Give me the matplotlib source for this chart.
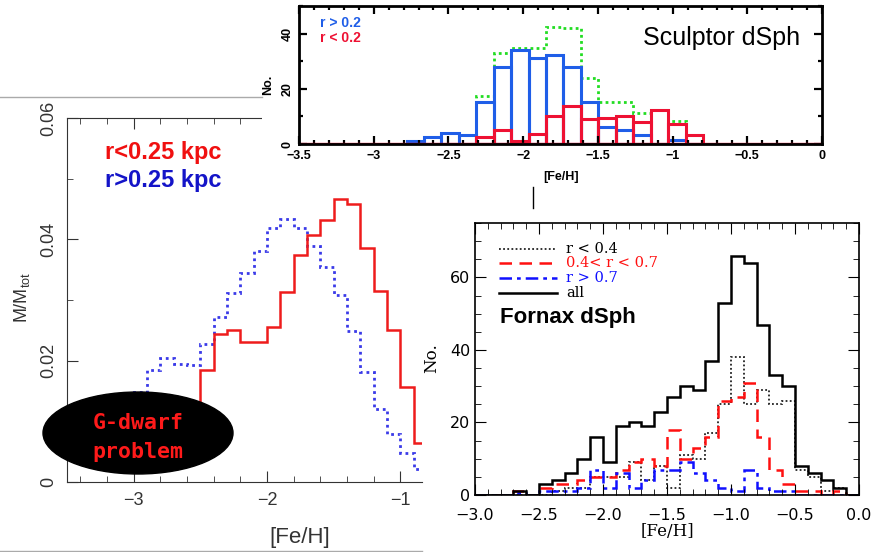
import numpy as np
import matplotlib
matplotlib.use("Agg")
import matplotlib.pyplot as plt
from matplotlib.patches import Ellipse
from matplotlib.lines import Line2D
from matplotlib.ticker import MultipleLocator

W, H = 875, 552

# --- left panel: model M/Mtot vs [Fe/H], bins of 0.1 from -3.5 to -0.8
left_edges = np.round(np.arange(-3.5, -0.75, 0.1), 1)
left_inner = [0.007, 0.007, 0.007, 0.007, 0.007, 0.007, 0.007, 0.007, 0.007, 0.007,
              0.0184, 0.0244, 0.0251, 0.0231, 0.0230, 0.0255, 0.0314, 0.0374, 0.0407,
              0.0432, 0.0467, 0.0459, 0.0385, 0.0315, 0.0250, 0.0157, 0.0065]
left_outer = [0.008, 0.008, 0.009, 0.010, 0.011,
              0.0148, 0.0184, 0.0205, 0.0195, 0.0193, 0.0228, 0.0272, 0.0311, 0.0344,
              0.0380, 0.0418, 0.0433, 0.0418, 0.0389, 0.0355, 0.0308, 0.0249, 0.0182,
              0.0121, 0.0079, 0.0048, 0.0022]

# --- Sculptor histogram
scl_edges = [-2.78, -2.663, -2.547, -2.43, -2.313, -2.197, -2.08, -1.963, -1.847,
             -1.73, -1.613, -1.497, -1.38, -1.263, -1.147, -1.03, -0.913, -0.797]
scl_out = [1.2, 2.4, 3.9, 3.4, 15.2, 28, 34, 31.2, 32.2, 28, 15.2, 6.3, 5.1, 3.4, 0, 1.4, 0]
scl_in = [0, 0, 0, 0, 2.4, 5.1, 1.2, 3.5, 10.2, 13.9, 9.1, 9.6, 10.2, 8.1, 12.2, 7.2, 3.4]
scl_all = [1.2, 2.4, 3.9, 3.4, 17.3, 32.8, 34.9, 34.9, 42.4, 42.2, 24.0, 15.3, 15.3,
           11.2, 12.2, 8.5, 3.4]

# --- Fornax histogram, bins of 0.1 from -3.0 to 0.0
fnx_edges = np.round(np.arange(-3.0, 0.05, 0.1), 1)
fnx_all = [0, 0, 0, 1, 0, 3, 4, 6, 10, 16, 9, 19, 20, 19, 23, 27, 30, 29, 37, 53,
           66, 64, 47, 33, 30, 8, 6, 4, 2, 0]
fnx_in = [0, 0, 0, 0, 0, 0, 1, 2, 2, 5, 5, 5, 9, 4, 8, 2, 11, 10, 17, 25,
          38, 25, 29, 25, 26, 7, 5, 1, 2, 0]
fnx_mid = [0, 0, 0, 1, 0, 2, 3, 3, 4, 5, 5, 7, 9, 10, 8, 18, 10, 13, 16, 26,
           27, 31, 16, 7, 3, 1, 1, 0, 1, 0]
fnx_out = [0, 0, 0, 0.5, 0, 1, 1, 1, 2, 7, 2, 6, 2, 4, 7, 7, 9, 6, 4, 2,
           1, 7, 2, 1, 1, 0, 0, 0, 0, 0]


def rect(x0, y0, x1, y1):
    return [x0 / W, 1 - y1 / H, (x1 - x0) / W, (y1 - y0) / H]


def fx(x):
    return x / W


def fy(y):
    return 1 - y / H


fig = plt.figure(figsize=(W / 100, H / 100), dpi=100)
fig.patch.set_facecolor('white')

gray = '#333333'
hel = 'Liberation Sans'

# ================= left panel
axL = fig.add_axes(rect(67, 118, 422, 482))
axL.set_zorder(0)
axL.stairs(left_outer, left_edges, baseline=None, color='#3a3ae8', lw=2.0,
           linestyle=(0, (1, 1.4)))
axL.stairs(left_inner, left_edges, baseline=None, color='#ee1c1c', lw=1.8)
axL.set_xlim(-3.5, -0.837)
axL.set_ylim(0, 0.06)
axL.spines['right'].set_visible(False)
for s in ['left', 'bottom', 'top']:
    axL.spines[s].set_color(gray)
axL.set_xticks([-3, -2, -1], labels=['\u22123', '\u22122', '\u22121'])
axL.set_yticks([0, 0.02, 0.04, 0.06], labels=['0', '0.02', '0.04', '0.06'])
axL.xaxis.set_minor_locator(MultipleLocator(0.2))
axL.yaxis.set_minor_locator(MultipleLocator(0.01))
axL.tick_params(which='both', direction='in', top=True, right=False, colors=gray,
                labelsize=13, labelfontfamily=hel)
axL.tick_params(which='major', length=8, pad=7)
axL.tick_params(which='minor', length=4)
for t in axL.get_yticklabels():
    t.set_rotation(90)
    t.set_va('center')

fig.text(fx(22), fy(297), 'M/M$_\\mathregular{tot}$', rotation=90, ha='center',
         va='center', fontsize=13, color=gray, family=hel)
fig.text(fx(300), fy(538), '[Fe/H]', ha='center', va='center', fontsize=16,
         color=gray, family=hel)
fig.text(fx(105), fy(159), 'r<0.25 kpc', color='#f01010', fontsize=17,
         fontweight='bold', family=hel, va='baseline')
fig.text(fx(105), fy(187), 'r>0.25 kpc', color='#1414c8', fontsize=17,
         fontweight='bold', family=hel, va='baseline')

ell = Ellipse((fx(138), fy(433)), 190 / W, 82 / H, transform=fig.transFigure,
              facecolor='black', edgecolor='black', clip_on=False, zorder=5)
axL.add_patch(ell)
axL.text(fx(138), fy(429), 'G-dwarf', transform=fig.transFigure, ha='center',
         va='baseline', color='#ff1a1a', fontsize=15.5, family='DejaVu Sans Mono',
         fontweight='bold', zorder=6, clip_on=False)
axL.text(fx(138), fy(458), 'problem', transform=fig.transFigure, ha='center',
         va='baseline', color='#ff1a1a', fontsize=15.5, family='DejaVu Sans Mono',
         fontweight='bold', zorder=6, clip_on=False)

fig.add_artist(Line2D([0, fx(262)], [fy(97), fy(97)], transform=fig.transFigure,
                      color='#aaaaaa', lw=1))
fig.add_artist(Line2D([0, fx(422)], [fy(551), fy(551)], transform=fig.transFigure,
                      color='#aaaaaa', lw=1))

# ================= Sculptor panel
bgS = fig.add_axes(rect(262, 0, 845, 187))
bgS.set_zorder(1)
bgS.set_xticks([])
bgS.set_yticks([])
for s in bgS.spines.values():
    s.set_visible(False)

axS = fig.add_axes(rect(299, 6, 822, 144))
axS.set_zorder(2)
scl_w = np.diff(scl_edges)
axS.stairs(scl_all, scl_edges, baseline=None, color='#22dd22', lw=2.0,
           linestyle=(0, (1, 1.2)))
axS.bar(scl_edges[:-1], scl_out, width=scl_w, align='edge', fill=False,
        edgecolor='#1f5ee8', lw=2.2)
axS.axhline(0, color='#ee1133', lw=2.4)
axS.bar(scl_edges[:-1], scl_in, width=scl_w, align='edge', fill=False,
        edgecolor='#ee1133', lw=2.2)
axS.set_xlim(-3.5, 0)
axS.set_ylim(0, 50)
axS.set_xticks([-3.5, -3, -2.5, -2, -1.5, -1, -0.5, 0],
               labels=['\u22123.5', '\u22123', '\u22122.5', '\u22122', '\u22121.5',
                       '\u22121', '\u22120.5', '0'])
axS.set_yticks([0, 20, 40])
axS.xaxis.set_minor_locator(MultipleLocator(0.1))
axS.yaxis.set_minor_locator(MultipleLocator(10))
for s in axS.spines.values():
    s.set_linewidth(2)
axS.tick_params(which='both', direction='in', top=True, right=True, width=1.6,
                labelsize=9, labelfontfamily=hel)
axS.tick_params(which='major', length=6, pad=4)
axS.tick_params(which='minor', length=3)
for t in axS.get_xticklabels() + axS.get_yticklabels():
    t.set_fontweight('bold')
for t in axS.get_yticklabels():
    t.set_rotation(90)
    t.set_va('center')

fig.text(fx(268), fy(85), 'No.', rotation=90, ha='center', va='center',
         fontsize=9, fontweight='bold', family=hel, zorder=3)
fig.text(fx(561), fy(177), '[Fe/H]', ha='center', va='center', fontsize=9,
         fontweight='bold', family=hel, zorder=3)
axS.text(fx(320), fy(27), 'r > 0.2', transform=fig.transFigure, color='#1f5ee8',
         fontsize=10, fontweight='bold', family=hel, va='baseline')
axS.text(fx(320), fy(42), 'r < 0.2', transform=fig.transFigure, color='#ee1133',
         fontsize=10, fontweight='bold', family=hel, va='baseline')
axS.text(fx(643), fy(45), 'Sculptor dSph', transform=fig.transFigure,
         fontsize=18, family=hel, va='baseline')

fig.add_artist(Line2D([fx(532.5), fx(532.5)], [fy(187), fy(208)],
                      transform=fig.transFigure, color='black', lw=1, zorder=4))

# ================= Fornax panel
bgF = fig.add_axes(rect(440, 208, 875, 552))
bgF.set_zorder(1)
bgF.set_xticks([])
bgF.set_yticks([])
for s in bgF.spines.values():
    s.set_visible(False)

axF = fig.add_axes(rect(475, 223, 859, 495))
axF.set_zorder(2)
st_in = (0, (1, 1.3))
st_mid = (0, (5, 3))
st_out = (0, (5, 2, 1.5, 2))
axF.stairs(fnx_in, fnx_edges, baseline=None, color='#222222', lw=1.3, linestyle=st_in)
axF.stairs(fnx_mid, fnx_edges, baseline=None, color='#ff1010', lw=1.8, linestyle=st_mid)
axF.stairs(fnx_out, fnx_edges, baseline=None, color='#1010ff', lw=1.8, linestyle=st_out)
axF.stairs(fnx_all, fnx_edges, baseline=None, color='black', lw=1.8)
axF.set_xlim(-3.0, 0.0)
axF.set_ylim(0, 75)
axF.set_xticks([-3.0, -2.5, -2.0, -1.5, -1.0, -0.5, 0.0],
               labels=['\u22123.0', '\u22122.5', '\u22122.0', '\u22121.5', '\u22121.0',
                       '\u22120.5', '0.0'])
axF.set_yticks([0, 20, 40, 60])
axF.xaxis.set_minor_locator(MultipleLocator(0.1))
axF.yaxis.set_minor_locator(MultipleLocator(5))
for s in axF.spines.values():
    s.set_linewidth(1.2)
axF.tick_params(which='both', direction='in', top=True, right=True, labelsize=11.5)
axF.tick_params(which='major', length=8)
axF.tick_params(which='minor', length=4)
axF.tick_params(axis='x', pad=9)
axF.tick_params(axis='y', pad=3.5)

fig.text(fx(432), fy(358), 'No.', rotation=90, ha='center', va='center',
         fontsize=12, family='DejaVu Serif', zorder=3)
fig.text(fx(667), fy(532), '[Fe/H]', ha='center', va='center', fontsize=12,
         family='DejaVu Serif', zorder=3)

leg_rows = [(249, 'r < 0.4', '#222222', st_in, 1.3, 'black'),
            (263, '0.4< r < 0.7', '#ff1010', st_mid, 1.8, '#ff1010'),
            (278, 'r > 0.7', '#1010ff', st_out, 1.8, '#1010ff'),
            (293, 'all', 'black', '-', 1.8, 'black')]
for ypx, lab, col, ls, lw, tcol in leg_rows:
    axF.add_artist(Line2D([fx(499), fx(557)], [fy(ypx), fy(ypx)],
                          transform=fig.transFigure, color=col, lw=lw, linestyle=ls))
    axF.text(fx(566), fy(ypx), lab, transform=fig.transFigure, color=tcol,
             fontsize=10.5, family='DejaVu Serif', va='center')
axF.text(fx(500), fy(323), 'Fornax dSph', transform=fig.transFigure, fontsize=16,
         fontweight='bold', family=hel, va='baseline')

fig.savefig('out.png', dpi=100)
